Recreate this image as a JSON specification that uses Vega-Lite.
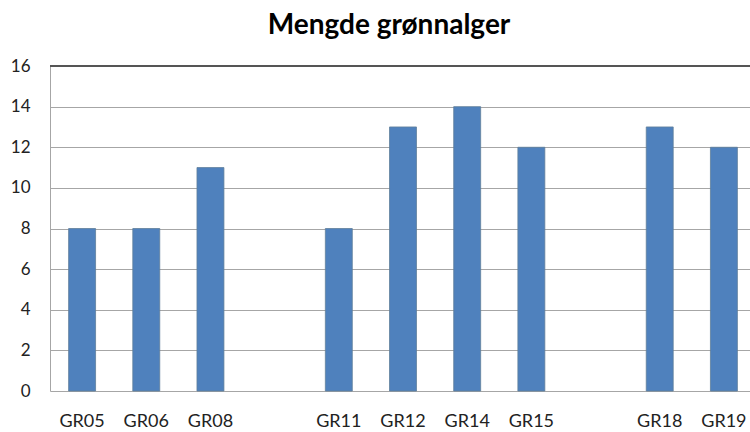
{
  "$schema": "https://vega.github.io/schema/vega-lite/v6.json",
  "autosize": "none",
  "width": 706,
  "height": 325,
  "padding": {"left": 50, "top": 66, "right": 0, "bottom": 41},
  "background": "white",
  "title": {
    "text": "Mengde grønnalger",
    "font": "Lato",
    "fontSize": 28,
    "fontWeight": "bold",
    "color": "#000000",
    "anchor": "middle",
    "dx": -14,
    "offset": 17
  },
  "config": {"view": {"stroke": null}},
  "data": {
    "values": [
      {"stasjon": "GR05", "mengde": 8},
      {"stasjon": "GR06", "mengde": 8},
      {"stasjon": "GR08", "mengde": 11},
      {"stasjon": "GR11", "mengde": 8},
      {"stasjon": "GR12", "mengde": 13},
      {"stasjon": "GR14", "mengde": 14},
      {"stasjon": "GR15", "mengde": 12},
      {"stasjon": "GR18", "mengde": 13},
      {"stasjon": "GR19", "mengde": 12}
    ]
  },
  "layer": [
    {
      "mark": {"type": "bar", "color": "#4F81BD", "stroke": "#5f7f9a", "strokeWidth": 0.8},
      "encoding": {
        "x": {
          "field": "stasjon",
          "type": "nominal",
          "sort": null,
          "scale": {
            "domain": ["GR05", "GR06", "GR08", "_a", "GR11", "GR12", "GR14", "GR15", "_b", "GR18", "GR19"],
            "paddingInner": 0.58,
            "paddingOuter": 0.29
          },
          "axis": {
            "title": null,
            "labelAngle": 0,
            "labelExpr": "indexof(datum.value, '_') == 0 ? '' : datum.value",
            "labelFont": "Lato",
            "labelFontSize": 18,
            "labelColor": "#222222",
            "labelPadding": 21,
            "ticks": false,
            "domain": false,
            "grid": false
          }
        },
        "y": {
          "field": "mengde",
          "type": "quantitative",
          "scale": {"domain": [0, 16], "nice": false},
          "axis": {
            "title": null,
            "values": [0, 2, 4, 6, 8, 10, 12, 14, 16],
            "labelFont": "Lato",
            "labelFontSize": 17,
            "labelColor": "#222222",
            "labelPadding": 20,
            "ticks": false,
            "domain": true,
            "domainColor": "#a6a6a6",
            "domainWidth": 1,
            "grid": true,
            "gridColor": "#a6a6a6",
            "gridWidth": 1
          }
        }
      }
    },
    {
      "mark": {"type": "rule", "color": "#555555", "strokeWidth": 2},
      "encoding": {"y": {"datum": 16, "type": "quantitative"}}
    }
  ]
}
